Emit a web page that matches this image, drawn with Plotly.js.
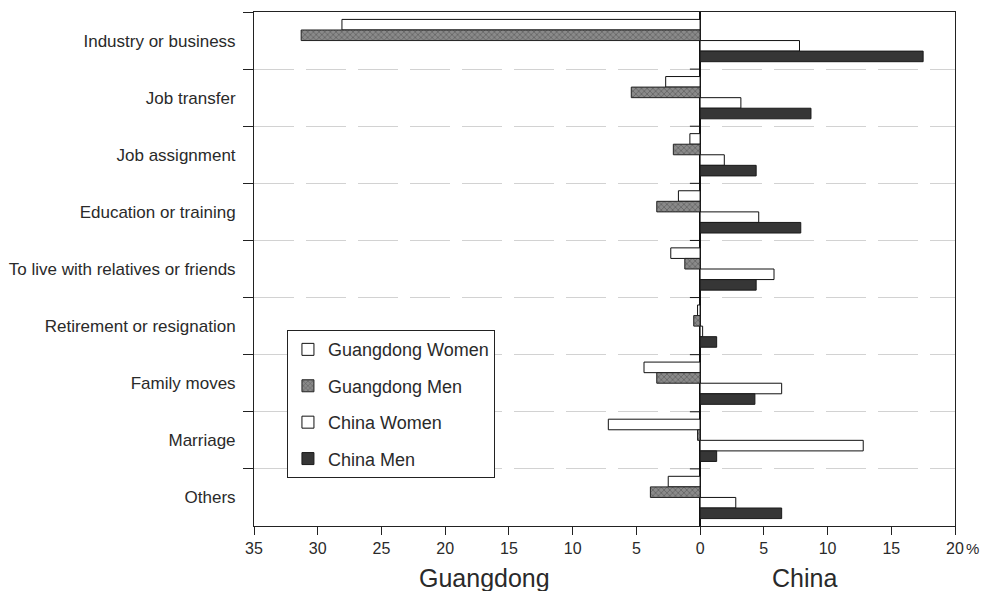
<!DOCTYPE html>
<html>
<head>
<meta charset="utf-8">
<script src="https://cdn.plot.ly/plotly-3.0.1.min.js"></script>
<style>html,body{margin:0;padding:0;background:#fff;}#chart{width:989px;height:591px;}</style>
</head>
<body>
<div id="chart"></div>
<script>
// Categories (top to bottom)
const categories = [
  "Industry or business",
  "Job transfer",
  "Job assignment",
  "Education or training",
  "To live with relatives or friends",
  "Retirement or resignation",
  "Family moves",
  "Marriage",
  "Others"
];
// Percentages (Guangdong values are drawn to the left)
const guangdongWomen = [28.1, 2.7, 0.8, 1.7, 2.3, 0.2, 4.4, 7.2, 2.5];
const guangdongMen   = [31.3, 5.4, 2.1, 3.4, 1.2, 0.5, 3.4, 0.2, 3.9];
const chinaWomen     = [7.8, 3.2, 1.9, 4.6, 5.8, 0.2, 6.4, 12.8, 2.8];
const chinaMen       = [17.5, 8.7, 4.4, 7.9, 4.4, 1.3, 4.3, 1.3, 6.4];

const xTickVals = [-35, -30, -25, -20, -15, -10, -5, 0, 5, 10, 15, 20];
const xTickText = ["35", "30", "25", "20", "15", "10", "5", "0", "5", "10", "15", "20"];

const FONT = "Liberation Sans, Arial, sans-serif";
const TXT = "#2a2a2a";
const neg = a => a.map(v => -v);

const traces = [
  {name: "Guangdong Women", x: neg(guangdongWomen), legendgroup: "a",
   marker: {color: "#ffffff", line: {color: "#111", width: 1}}},
  {name: "Guangdong Men", x: neg(guangdongMen), legendgroup: "b",
   marker: {color: "#7f7f7f", line: {color: "#222", width: 1},
            pattern: {shape: "x", bgcolor: "#8a8a8a", fgcolor: "#5a5a5a", size: 4, solidity: 0.3}}},
  {name: "China Women", x: chinaWomen, legendgroup: "c",
   marker: {color: "#ffffff", line: {color: "#111", width: 1}}},
  {name: "China Men", x: chinaMen, legendgroup: "d",
   marker: {color: "#363636", line: {color: "#1a1a1a", width: 1}}}
].map(t => Object.assign({type: "bar", orientation: "h", y: categories, hoverinfo: "x+name"}, t));

// small tick marks on the zero line at category boundaries
const shapes = categories.slice(0, -1).map((c, i) => ({
  type: "line", xref: "x", yref: "y", x0: -0.8, x1: 0, y0: i + 0.5, y1: i + 0.5,
  line: {color: "#111", width: 1}
}));

const layout = {
  width: 989, height: 591,
  margin: {l: 254, r: 34, t: 12, b: 65},
  paper_bgcolor: "#fff", plot_bgcolor: "#fff",
  font: {family: FONT, color: TXT, size: 16},
  barmode: "group", bargap: 0.26, bargroupgap: 0,
  showlegend: true,
  legend: {x: 0.047, y: 0.381, xanchor: "left", yanchor: "top",
           bgcolor: "#fff", bordercolor: "#222", borderwidth: 1,
           font: {family: FONT, size: 18, color: TXT},
           tracegroupgap: 10, traceorder: "grouped",
           entrywidth: 205, entrywidthmode: "pixels"},
  xaxis: {range: [-35, 20], tickvals: xTickVals, ticktext: xTickText,
          ticks: "outside", ticklen: 8, tickcolor: "#222", tickwidth: 1,
          showline: true, linecolor: "#222", linewidth: 1, mirror: true,
          showgrid: false, zeroline: true, zerolinecolor: "#111", zerolinewidth: 1.5,
          tickfont: {family: FONT, size: 16, color: TXT}, fixedrange: true},
  yaxis: {type: "category", categoryorder: "array", categoryarray: categories,
          range: [8.5, -0.5], tickson: "boundaries", ticks: "outside", ticklen: 10,
          tickcolor: "#222", showline: true, linecolor: "#222", linewidth: 1, mirror: true,
          showgrid: true, gridcolor: "#d2d2d2", griddash: "40px,12px", gridwidth: 1,
          ticklabelstandoff: 14,
          tickfont: {family: FONT, size: 17, color: TXT}, fixedrange: true},
  shapes: shapes,
  annotations: [
    {xref: "x", yref: "paper", x: -16.9, y: -0.101, text: "Guangdong", showarrow: false,
     xanchor: "center", yanchor: "middle", font: {family: FONT, size: 25, color: TXT}},
    {xref: "x", yref: "paper", x: 8.2, y: -0.101, text: "China", showarrow: false,
     xanchor: "center", yanchor: "middle", font: {family: FONT, size: 25, color: TXT}},
    {xref: "x", yref: "paper", x: 20, y: -0.043, text: "%", showarrow: false,
     xanchor: "left", yanchor: "middle", xshift: 9, font: {family: FONT, size: 15, color: TXT}}
  ]
};

Plotly.newPlot("chart", traces, layout, {staticPlot: true, displayModeBar: false});
</script>
</body>
</html>
